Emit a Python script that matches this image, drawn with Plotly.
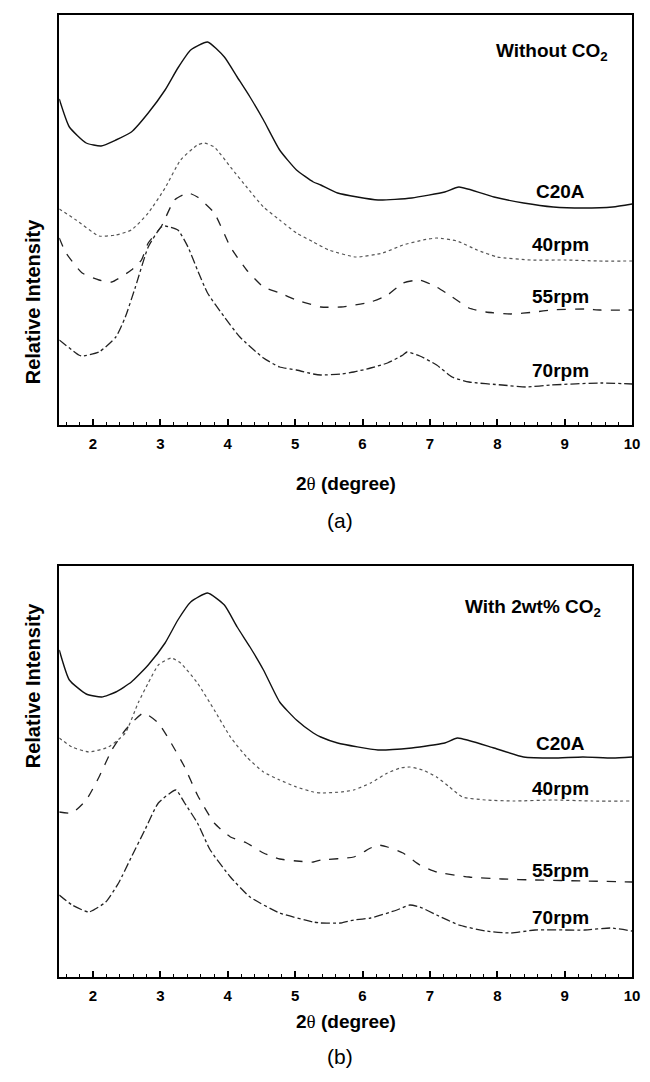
import plotly.graph_objects as go

# ---------- Panel (a): Without CO2 ----------
a_c20a_x = [1.5, 1.65, 1.9, 2.12, 2.34, 2.57, 2.82, 3.07, 3.26, 3.45, 3.70, 3.95, 4.14, 4.33, 4.53, 4.77, 5.02, 5.27, 5.38, 5.63, 6.23, 6.73, 7.22, 7.43, 7.95, 8.39, 8.83, 9.27, 9.71, 10.0]
a_c20a_y = [326, 298, 282, 279, 285, 293, 312, 335, 357, 375, 383, 368, 348, 328, 305, 275, 255, 243, 240, 232, 225, 227, 233, 238, 228, 222, 218, 217, 218, 221]

a_40_x = [1.5, 1.75, 2.09, 2.34, 2.57, 2.82, 3.07, 3.30, 3.55, 3.65, 3.80, 4.04, 4.28, 4.53, 4.77, 5.02, 5.27, 5.5, 5.9, 6.3, 6.6, 6.9, 7.1, 7.4, 7.7, 8.0, 8.5, 9.0, 9.5, 10.0]
a_40_y = [216, 205, 189, 190, 195, 212, 237, 265, 280, 282, 278, 258, 238, 218, 205, 192, 183, 175, 168, 172, 180, 185, 187, 184, 175, 168, 165, 165, 164, 164]

a_55_x = [1.5, 1.60, 1.84, 2.09, 2.28, 2.57, 2.72, 2.82, 3.01, 3.21, 3.41, 3.55, 3.80, 4.04, 4.28, 4.53, 4.77, 5.02, 5.27, 5.38, 5.68, 6.12, 6.37, 6.60, 6.85, 7.10, 7.33, 7.58, 7.83, 8.20, 8.56, 8.80, 9.30, 9.53, 10.0]
a_55_y = [187, 172, 152, 145, 143, 155, 165, 182, 198, 225, 232, 228, 212, 178, 155, 138, 132, 125, 120, 118, 118, 123, 130, 142, 145, 138, 128, 117, 113, 111, 113, 115, 116, 115, 115]

a_70_x = [1.5, 1.79, 1.84, 2.09, 2.34, 2.48, 2.63, 2.82, 3.01, 3.07, 3.26, 3.41, 3.55, 3.70, 3.95, 4.18, 4.53, 4.77, 5.02, 5.27, 5.38, 5.68, 5.87, 6.12, 6.37, 6.60, 6.66, 6.85, 7.10, 7.33, 7.58, 8.07, 8.43, 8.80, 9.53, 10.0]
a_70_y = [85, 70, 69, 73, 88, 108, 138, 178, 198, 199, 195, 178, 155, 132, 108, 88, 67, 58, 55, 51, 50, 51, 53, 57, 62, 70, 73, 69, 60, 48, 43, 40, 38, 40, 42, 41]

# ---------- Panel (b): With 2wt% CO2 ----------
b_c20a_x = [1.5, 1.65, 1.90, 2.13, 2.34, 2.57, 2.82, 3.07, 3.26, 3.45, 3.70, 3.95, 4.14, 4.33, 4.53, 4.77, 5.02, 5.27, 5.38, 5.63, 6.23, 6.73, 6.85, 7.22, 7.41, 7.95, 8.39, 8.83, 9.27, 9.71, 10.0]
b_c20a_y = [327, 297, 283, 280, 285, 295, 312, 334, 357, 375, 384, 372, 350, 330, 307, 275, 257, 244, 240, 234, 227, 229, 230, 234, 239, 229, 220, 219, 220, 219, 220]

b_40_x = [1.5, 1.69, 1.94, 2.23, 2.48, 2.67, 2.82, 2.97, 3.16, 3.30, 3.55, 3.80, 4.04, 4.28, 4.53, 4.77, 5.02, 5.27, 5.38, 5.68, 5.87, 6.12, 6.37, 6.56, 6.70, 6.89, 7.10, 7.29, 7.48, 7.83, 8.24, 8.83, 9.41, 10.0]
b_40_y = [239, 230, 225, 230, 244, 274, 294, 312, 319, 314, 294, 267, 240, 220, 205, 197, 190, 185, 184, 185, 187, 194, 204, 209, 210, 207, 200, 190, 180, 177, 176, 177, 176, 176]

b_55_x = [1.5, 1.69, 1.90, 2.09, 2.28, 2.48, 2.75, 2.97, 3.16, 3.36, 3.55, 3.80, 4.04, 4.28, 4.53, 4.77, 5.02, 5.27, 5.38, 5.87, 6.12, 6.23, 6.37, 6.60, 6.85, 7.10, 7.58, 8.07, 8.56, 9.30, 10.0]
b_55_y = [165, 164, 177, 200, 227, 247, 264, 254, 234, 210, 182, 154, 140, 134, 124, 118, 116, 115, 117, 120, 129, 132, 130, 124, 112, 105, 100, 98, 97, 96, 95]

b_70_x = [1.5, 1.69, 1.94, 2.19, 2.38, 2.57, 2.77, 2.97, 3.23, 3.36, 3.55, 3.74, 4.04, 4.33, 4.77, 5.27, 5.38, 5.68, 5.87, 6.12, 6.51, 6.70, 6.85, 7.10, 7.43, 7.83, 8.20, 8.56, 9.30, 9.68, 10.0]
b_70_y = [82, 72, 65, 75, 94, 120, 147, 174, 187, 174, 154, 127, 100, 80, 64, 55, 54, 54, 57, 59, 67, 72, 70, 62, 52, 46, 44, 47, 47, 49, 46]

series_names = ["C20A", "40rpm", "55rpm", "70rpm"]
series_dash = ["solid", "dot", "dash", "dashdot"]
series_color = ["#111111", "#555555", "#222222", "#222222"]
series_width = [1.4, 1.2, 1.3, 1.3]

a_label_y = [233, 180, 128, 54]
b_label_y = [234, 189, 107, 60]
label_x = 8.93

tick_vals = [2, 3, 4, 5, 6, 7, 8, 9, 10]
tick_text = ["2", "3", "4", "5", "6", "7", "8", "9", "10"]

FONT = "Liberation Sans, Arial, sans-serif"

fig = go.Figure()

a_data = [(a_c20a_x, a_c20a_y), (a_40_x, a_40_y), (a_55_x, a_55_y), (a_70_x, a_70_y)]
b_data = [(b_c20a_x, b_c20a_y), (b_40_x, b_40_y), (b_55_x, b_55_y), (b_70_x, b_70_y)]

for i, (xs, ys) in enumerate(a_data):
    fig.add_trace(go.Scatter(x=xs, y=ys, mode="lines", name=series_names[i],
                             line=dict(color=series_color[i], width=series_width[i], dash=series_dash[i],
                                       shape="spline", smoothing=0.5),
                             xaxis="x", yaxis="y", showlegend=False))
for i, (xs, ys) in enumerate(b_data):
    fig.add_trace(go.Scatter(x=xs, y=ys, mode="lines", name=series_names[i],
                             line=dict(color=series_color[i], width=series_width[i], dash=series_dash[i],
                                       shape="spline", smoothing=0.5),
                             xaxis="x2", yaxis="y2", showlegend=False))

W, H = 650, 1082
x_dom = [60 / W, 640 / W]
ya_dom = [1 - 425 / H, 1 - 15 / H]
yb_dom = [1 - 977 / H, 1 - 566 / H]

xaxis_common = dict(
    range=[1.5, 10], domain=x_dom, showgrid=False, zeroline=False,
    showline=True, linecolor="black", linewidth=2, mirror=True,
    ticks="inside", ticklen=6, tickwidth=1.5, tickcolor="black",
    tickvals=tick_vals, ticktext=tick_text, ticklabelstandoff=4,
    tickfont=dict(family=FONT, size=15, color="black", weight="bold"),
    minor=dict(dtick=0.2, tick0=1.6, ticks="inside", ticklen=3, tickwidth=1.2, tickcolor="black"),
)
yaxis_common = dict(
    showgrid=False, zeroline=False, showticklabels=False,
    showline=True, linecolor="black", linewidth=2, mirror=True, ticks="",
)

fig.update_layout(
    width=W, height=H, margin=dict(l=0, r=0, t=0, b=0),
    paper_bgcolor="white", plot_bgcolor="white",
    xaxis=dict(**xaxis_common, anchor="y"),
    yaxis=dict(**yaxis_common, domain=ya_dom, range=[0, 410], anchor="x"),
    xaxis2=dict(**xaxis_common, anchor="y2"),
    yaxis2=dict(**yaxis_common, domain=yb_dom, range=[0, 411], anchor="x2"),
    font=dict(family=FONT, color="black"),
)

bold = dict(family=FONT, size=19, color="black", weight="bold")
ann = []
for i, name in enumerate(series_names):
    ann.append(dict(x=label_x, y=a_label_y[i], xref="x", yref="y", text=name,
                    showarrow=False, font=bold))
    ann.append(dict(x=label_x, y=b_label_y[i], xref="x2", yref="y2", text=name,
                    showarrow=False, font=bold))

ann.append(dict(x=8.81, y=373, xref="x", yref="y", text="Without CO<sub>2</sub>",
                showarrow=False, font=bold))
ann.append(dict(x=8.53, y=369, xref="x2", yref="y2", text="With 2wt% CO<sub>2</sub>",
                showarrow=False, font=bold))

# axis titles
theta = '2<span style="font-family:Liberation Serif, Times New Roman, serif;font-weight:normal">θ</span> (degree)'
ann.append(dict(x=350 / W, y=1 - 483 / H, xref="paper", yref="paper", text=theta,
                showarrow=False, font=bold))
ann.append(dict(x=350 / W, y=1 - 1034 / H, xref="paper", yref="paper", text=theta,
                showarrow=False, font=bold))
ann.append(dict(x=344 / W, y=1 - 520 / H, xref="paper", yref="paper", text="(a)",
                showarrow=False, font=dict(family=FONT, size=21, color="black")))
ann.append(dict(x=344 / W, y=1 - 1070 / H, xref="paper", yref="paper", text="(b)",
                showarrow=False, font=dict(family=FONT, size=21, color="black")))
ann.append(dict(x=20 / W, y=1 - 217 / H, xref="paper", yref="paper", text="Relative Intensity",
                showarrow=False, textangle=-90, font=dict(family=FONT, size=20, color="black", weight="bold")))
ann.append(dict(x=20 / W, y=1 - 770 / H, xref="paper", yref="paper", text="Relative Intensity",
                showarrow=False, textangle=-90, font=dict(family=FONT, size=20, color="black", weight="bold")))

fig.update_layout(annotations=ann)

fig.write_html("out.html")
